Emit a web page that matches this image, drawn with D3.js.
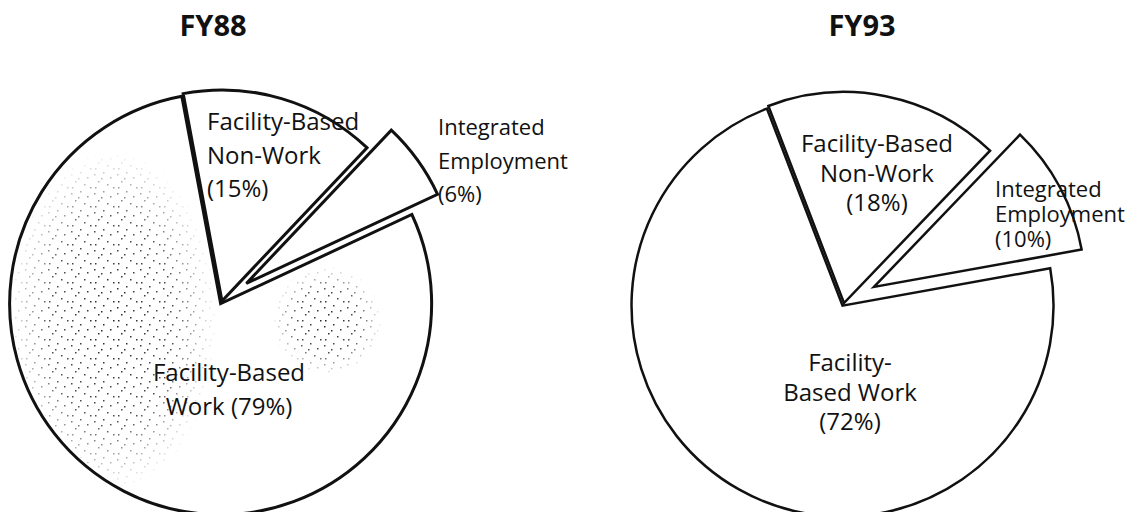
<!DOCTYPE html>
<html>
<head>
<meta charset="utf-8">
<script src="https://cdn.jsdelivr.net/npm/d3@7"></script>
<style>
  body { margin: 0; background: #fff; }
  text { font-family: "Open Sans", sans-serif; fill: #111; }
</style>
</head>
<body>
<svg id="chart" width="1138" height="512"></svg>
<script>
// data
const categories = ["Facility-Based Non-Work", "Integrated Employment", "Facility-Based Work"];
const years = ["FY88", "FY93"];
const fy88Values = [15, 6, 79];
const fy93Values = [18, 10, 72];
const fy88Labels = [
  ["Facility-Based", "Non-Work", "(15%)"],
  ["Integrated", "Employment", "(6%)"],
  ["Facility-Based", "Work (79%)"]
];
const fy93Labels = [
  ["Facility-Based", "Non-Work", "(18%)"],
  ["Integrated", "Employment", "(10%)"],
  ["Facility-", "Based Work", "(72%)"]
];

// layout for each pie
const layouts = [
  {
    cx: 222, cy: 301, r: 211, start: -10.6, explode: [0, 30, 3], stroke: 3,
    title: { x: 213, y: 36 },
    speckle: true,
    labels: [
      { x: 207, y: 130, anchor: "start", lh: 33.5, size: 24 },
      { x: 438, y: 135, anchor: "start", lh: 33.5, size: 22 },
      { x: 229, y: 381, anchor: "middle", lh: 34, size: 24 }
    ]
  },
  {
    cx: 844, cy: 303, r: 211, start: -21, explode: [0, 34, 3], stroke: 2.5,
    title: { x: 862, y: 36 },
    speckle: false,
    labels: [
      { x: 877, y: 152, anchor: "middle", lh: 29.5, size: 24 },
      { x: 995, y: 197, anchor: "start", lh: 25, size: 22 },
      { x: 850, y: 371, anchor: "middle", lh: 29.5, size: 24 }
    ]
  }
];

const svg = d3.select("#chart");
const values = [fy88Values, fy93Values];
const labels = [fy88Labels, fy93Labels];

// scanned-print speckle texture (sparse dots, soft edges)
const defs = svg.append("defs");
const pat = defs.append("pattern")
  .attr("id", "speckle")
  .attr("width", 23).attr("height", 19)
  .attr("patternUnits", "userSpaceOnUse");
[[2, 3], [11, 1], [18, 6], [6, 10], [15, 13], [21, 16], [3, 16], [9, 7]].forEach(([x, y]) => {
  pat.append("rect").attr("x", x).attr("y", y)
    .attr("width", 1.5).attr("height", 1.5).attr("fill", "#222");
});
const fade = defs.append("radialGradient").attr("id", "fade");
fade.append("stop").attr("offset", "0%").attr("stop-color", "#fff").attr("stop-opacity", 1);
fade.append("stop").attr("offset", "60%").attr("stop-color", "#fff").attr("stop-opacity", 0.8);
fade.append("stop").attr("offset", "100%").attr("stop-color", "#fff").attr("stop-opacity", 0);

years.forEach((year, i) => {
  const L = layouts[i];
  const s = L.start * Math.PI / 180;
  const pie = d3.pie().sort(null).startAngle(s).endAngle(s + 2 * Math.PI);
  const arcs = pie(values[i]);
  const arc = d3.arc().innerRadius(0).outerRadius(L.r);
  const shift = (d, j) => {
    const mid = (d.startAngle + d.endAngle) / 2;
    const off = L.explode[j];
    return `translate(${Math.sin(mid) * off},${-Math.cos(mid) * off})`;
  };

  const g = svg.append("g")
    .attr("class", "pie " + year)
    .attr("transform", `translate(${L.cx},${L.cy})`);

  // slices
  g.selectAll("path.slice")
    .data(arcs)
    .join("path")
    .attr("class", (d, j) => "slice s" + j)
    .attr("d", arc)
    .attr("transform", shift)
    .attr("fill", "#fff")
    .attr("stroke", "#111")
    .attr("stroke-width", L.stroke)
    .attr("stroke-linejoin", "miter");

  // speckle inside the work slice
  if (L.speckle) {
    const work = arcs[2];
    defs.append("clipPath").attr("id", "clip-" + year)
      .append("path")
      .attr("d", d3.arc().innerRadius(0).outerRadius(L.r - 3)(work))
      .attr("transform", `translate(${L.cx},${L.cy}) ` + shift(work, 2));
    const mask = defs.append("mask").attr("id", "mask-" + year);
    mask.append("ellipse")
      .attr("cx", L.cx - 110).attr("cy", L.cy + 20).attr("rx", 105).attr("ry", 170)
      .attr("fill", "url(#fade)");
    mask.append("ellipse")
      .attr("cx", L.cx + 105).attr("cy", L.cy + 20).attr("rx", 55).attr("ry", 55)
      .attr("fill", "url(#fade)");
    svg.append("rect")
      .attr("class", "speckle")
      .attr("x", 0).attr("y", 0).attr("width", 1138).attr("height", 512)
      .attr("fill", "url(#speckle)")
      .attr("mask", `url(#mask-${year})`)
      .attr("clip-path", `url(#clip-${year})`);
  }

  // title
  svg.append("text")
    .attr("class", "title")
    .attr("x", L.title.x)
    .attr("y", L.title.y)
    .attr("text-anchor", "middle")
    .attr("font-size", "29px")
    .attr("font-weight", 700)
    .text(year);

  // slice labels
  labels[i].forEach((lines, j) => {
    const p = L.labels[j];
    const t = svg.append("text")
      .attr("class", "label")
      .attr("x", p.x)
      .attr("y", p.y)
      .attr("text-anchor", p.anchor)
      .attr("font-size", p.size + "px");
    lines.forEach((line, k) => {
      t.append("tspan")
        .attr("x", p.x)
        .attr("y", p.y + k * p.lh)
        .text(line);
    });
  });
});
</script>
</body>
</html>
